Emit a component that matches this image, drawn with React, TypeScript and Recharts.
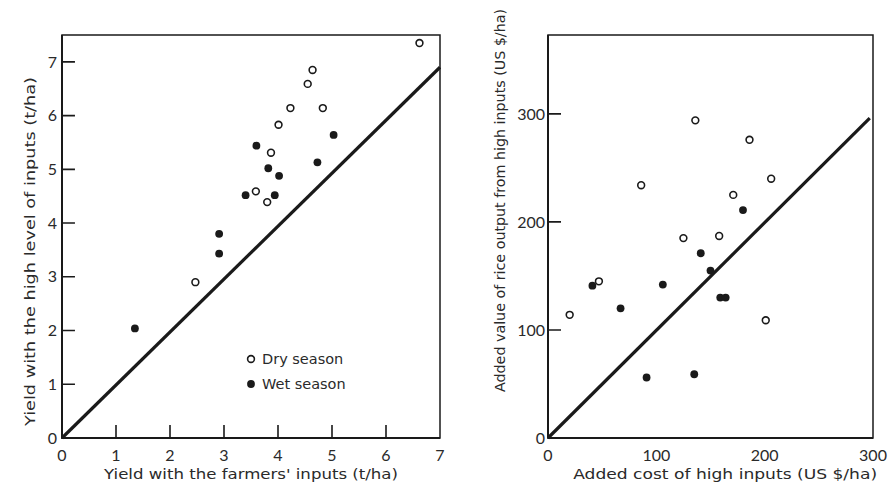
import React from "react";
import { ScatterChart, Scatter, XAxis, YAxis, ReferenceArea } from "recharts";

// Left panel: yields (t/ha)
const leftDryX = [4.64, 4.55, 4.23, 4.83, 4.01, 3.87, 3.59, 3.8, 2.47, 6.62];
const leftDryY = [6.85, 6.59, 6.14, 6.14, 5.83, 5.31, 4.59, 4.39, 2.9, 7.35];
const leftWetX = [3.6, 3.82, 4.02, 3.4, 3.94, 4.73, 5.03, 2.91, 2.91, 1.35];
const leftWetY = [5.44, 5.02, 4.88, 4.52, 4.52, 5.13, 5.64, 3.8, 3.43, 2.04];
const leftLineX = [0, 7];
const leftLineY = [0, 6.9];
const leftTicks = [0, 1, 2, 3, 4, 5, 6, 7];

// Right panel: added cost vs added value (US $/ha)
const rightDryX = [136, 186, 86, 206, 171, 125, 158, 47, 20, 201];
const rightDryY = [294, 276, 234, 240, 225, 185, 187, 145, 114, 109];
const rightWetX = [180, 141, 150, 41, 106, 67, 159, 164, 91, 135];
const rightWetY = [211, 171, 155, 141, 142, 120, 130, 130, 56, 59];
const rightLineX = [0, 297];
const rightLineY = [0, 296];
const rightTicks = [0, 100, 200, 300];

const zip = (xs: number[], ys: number[]) => xs.map((x, i) => ({ x, y: ys[i] }));

// Inward tick marks as one polyline that runs along the axis and steps
// out and back at each tick (the run along the axis hides under the axis line).
const yTickPath = (ticks: number[], len: number) =>
  ticks.flatMap((v) => [{ x: 0, y: v }, { x: len, y: v }, { x: 0, y: v }]);
const xTickPath = (ticks: number[], len: number) =>
  ticks.flatMap((v) => [{ x: v, y: 0 }, { x: v, y: len }, { x: v, y: 0 }]);

const INK = "#1a1a1a";
const TEXT = "#2a2a2a";
const TICK_FONT = "Lato, 'DejaVu Sans', sans-serif";
const LABEL_FONT = "'DejaVu Sans', sans-serif";

const OpenDot = (p: any) => (
  <circle cx={p.cx} cy={p.cy} r={3.4} fill="#fff" stroke={INK} strokeWidth={1.6} />
);
const FilledDot = (p: any) => <circle cx={p.cx} cy={p.cy} r={3.9} fill={INK} />;
const NoDot = () => <g />;

const tickStyle = { fill: TEXT, fontSize: 16, fontFamily: TICK_FONT };

const xLabel = (text: string, frac: number, len: number) => (props: any) => {
  const { viewBox } = props;
  return (
    <text
      x={viewBox.x + viewBox.width * frac}
      y={viewBox.y + 41}
      textAnchor="middle"
      fill={TEXT}
      fontSize={14}
      fontFamily={LABEL_FONT}
      textLength={len}
      lengthAdjust="spacingAndGlyphs"
    >
      {text}
    </text>
  );
};

const yLabel = (text: string, cx: number, shift: number, len: number) => (props: any) => {
  const { viewBox } = props;
  const cy = viewBox.y + viewBox.height / 2 + shift;
  return (
    <text
      x={cx}
      y={cy}
      transform={`rotate(-90 ${cx} ${cy})`}
      textAnchor="middle"
      dominantBaseline="central"
      fill={TEXT}
      fontSize={14}
      fontFamily={LABEL_FONT}
      textLength={len}
      lengthAdjust="spacingAndGlyphs"
    >
      {text}
    </text>
  );
};

function LeftPanel() {
  return (
    <ScatterChart width={460} height={491} margin={{ top: 35, right: 20, bottom: 23, left: 32 }}>
      <XAxis
        type="number"
        dataKey="x"
        domain={[0, 7]}
        ticks={leftTicks}
        height={30}
        tickSize={0}
        tickMargin={12}
        tickLine={false}
        tick={tickStyle}
        axisLine={{ stroke: INK, strokeWidth: 2 }}
        label={{ content: xLabel("Yield with the farmers' inputs (t/ha)", 0.5, 294) }}
      />
      <YAxis
        type="number"
        dataKey="y"
        domain={[0, 7.5]}
        ticks={leftTicks}
        width={30}
        tickSize={0}
        tickMargin={5}
        tickLine={false}
        tick={tickStyle}
        axisLine={{ stroke: INK, strokeWidth: 2 }}
        label={{ content: yLabel("Yield with the high level of inputs (t/ha)", 30, 15, 349) }}
      />
      <ReferenceArea x1={0} x2={7} y1={0} y2={7.5} fill="none" stroke={INK} strokeWidth={1.5} />
      <Scatter
        data={zip(leftLineX, leftLineY)}
        line={{ stroke: INK, strokeWidth: 3.2 }}
        shape={NoDot}
        isAnimationActive={false}
      />
      <Scatter data={zip(leftDryX, leftDryY)} shape={OpenDot} isAnimationActive={false} />
      <Scatter data={zip(leftWetX, leftWetY)} shape={FilledDot} isAnimationActive={false} />
      <Scatter
        data={yTickPath(leftTicks, 0.24)}
        line={{ stroke: INK, strokeWidth: 1.6 }}
        shape={NoDot}
        isAnimationActive={false}
      />
      <Scatter
        data={xTickPath(leftTicks.slice(0, -1), 0.24)}
        line={{ stroke: INK, strokeWidth: 1.6 }}
        shape={NoDot}
        isAnimationActive={false}
      />
    </ScatterChart>
  );
}

function RightPanel() {
  return (
    <ScatterChart width={441} height={491} margin={{ top: 35, right: 18, bottom: 23, left: 53 }}>
      <XAxis
        type="number"
        dataKey="x"
        domain={[0, 300]}
        ticks={rightTicks}
        height={30}
        tickSize={0}
        tickMargin={12}
        tickLine={false}
        tick={tickStyle}
        axisLine={{ stroke: INK, strokeWidth: 2 }}
        label={{ content: xLabel("Added cost of high inputs (US $/ha)", 0.545, 304) }}
      />
      <YAxis
        type="number"
        dataKey="y"
        domain={[0, 373]}
        ticks={rightTicks}
        width={45}
        tickSize={0}
        tickMargin={3}
        tickLine={false}
        tick={tickStyle}
        axisLine={{ stroke: INK, strokeWidth: 2 }}
        label={{ content: yLabel("Added value of rice output from high inputs (US $/ha)", 50, -36, 383) }}
      />
      <ReferenceArea x1={0} x2={300} y1={0} y2={373} fill="none" stroke={INK} strokeWidth={1.5} />
      <Scatter
        data={zip(rightLineX, rightLineY)}
        line={{ stroke: INK, strokeWidth: 3.2 }}
        shape={NoDot}
        isAnimationActive={false}
      />
      <Scatter data={zip(rightDryX, rightDryY)} shape={OpenDot} isAnimationActive={false} />
      <Scatter data={zip(rightWetX, rightWetY)} shape={FilledDot} isAnimationActive={false} />
      <Scatter
        data={yTickPath(rightTicks, 12)}
        line={{ stroke: INK, strokeWidth: 1.6 }}
        shape={NoDot}
        isAnimationActive={false}
      />
    </ScatterChart>
  );
}

function SeasonLegend() {
  const items = [
    { name: "Dry season", open: true },
    { name: "Wet season", open: false },
  ];
  return (
    <div style={{ position: "absolute", left: 245, top: 346, fontFamily: LABEL_FONT, fontSize: 14.5, color: TEXT }}>
      {items.map((it) => (
        <div key={it.name} style={{ display: "flex", alignItems: "center", height: 25 }}>
          <svg width={12} height={12} style={{ marginRight: 5 }}>
            {it.open ? (
              <circle cx={6} cy={6} r={3.4} fill="#fff" stroke={INK} strokeWidth={1.6} />
            ) : (
              <circle cx={6} cy={6} r={3.9} fill={INK} />
            )}
          </svg>
          <span>{it.name}</span>
        </div>
      ))}
    </div>
  );
}

export default function App() {
  return (
    <div style={{ position: "fixed", left: 0, top: 0, width: 891, height: 491, background: "#fff", overflow: "hidden" }}>
      <div style={{ position: "absolute", left: 0, top: 0 }}>
        <LeftPanel />
      </div>
      <div style={{ position: "absolute", left: 450, top: 0 }}>
        <RightPanel />
      </div>
      <SeasonLegend />
    </div>
  );
}
